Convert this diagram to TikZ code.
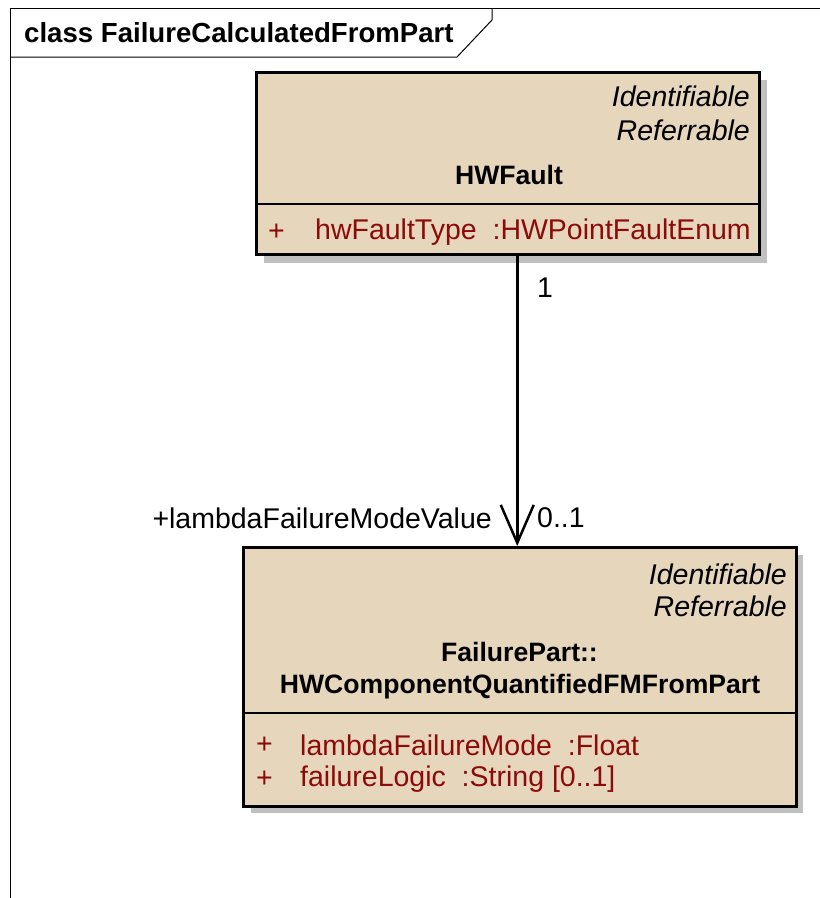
\documentclass[tikz,border=0pt]{standalone}
\usepackage{fontspec}
\setmainfont{Liberation Sans}
\usetikzlibrary{arrows.meta}
\definecolor{classfill}{RGB}{229,214,188}
\definecolor{attrred}{RGB}{140,10,10}
\definecolor{shadowgray}{RGB}{192,192,192}
\begin{document}
\begin{tikzpicture}[x=1pt,y=-1pt,
  font=\fontsize{28.5}{33}\selectfont,
  classbox/.style={draw=black, line width=2.5pt, fill=classfill, inner sep=0pt, anchor=north west},
  shadowbox/.style={fill=shadowgray, draw=none},
  txt/.style={inner sep=0pt},
  stereo/.style={txt, anchor=east, font=\fontsize{28.5}{33}\selectfont\itshape},
  cname/.style={txt, font=\fontsize{26.6}{33}\selectfont\bfseries},
  attr/.style={txt, anchor=west, text=attrred},
  divider/.style={line width=2pt},
  assoc/.style={line width=2.5pt, -{Straight Barb[length=38pt,width=33pt,line width=2.5pt]}},
  framebox/.style={line width=1pt}]
\useasboundingbox (0,0) rectangle (820,898);
% frame
\draw[framebox] (10,898) -- (10,8) -- (820,8);
\draw[framebox] (10,57) -- (457,57) -- (492,20) -- (492,8);
\node[txt, anchor=west, font=\fontsize{27.6}{33}\selectfont\bfseries] (title) at (24,33) {class FailureCalculatedFromPart};
% HWFault
\fill[shadowbox] (264,80) rectangle (767,263);
\node[classbox, minimum width=503pt, minimum height=182pt] (hw) at (255,71) {};
\draw[divider] (255,204) -- (758,204);
\node[stereo] (hwid) at (750,96) {Identifiable};
\node[stereo] (hwref) at (750,130) {Referrable};
\node[cname] (hwname) at (509,175) {HWFault};
\node[attr] (hwplus) at (268,232) {+};
\node[attr] (hwattr) at (315,232) {hwFaultType\ \ :HWPointFaultEnum};
% FailurePart
\fill[shadowbox] (251,555) rectangle (803,813);
\node[classbox, minimum width=553pt, minimum height=259pt] (fp) at (242,546) {};
\draw[divider] (242,713) -- (795,713);
\node[stereo] (fpid) at (787,574) {Identifiable};
\node[stereo] (fpref) at (787,606) {Referrable};
\node[cname] (fpname1) at (519.5,652) {FailurePart::};
\node[cname] (fpname2) at (520,687) {HWComponentQuantifiedFMFromPart};
\node[attr] (fpplus1) at (256,745) {+};
\node[attr] (fpattr1) at (300,745) {lambdaFailureMode\ \ :Float};
\node[attr] (fpplus2) at (256,779) {+};
\node[attr] (fpattr2) at (300,779) {failureLogic\ \ :String [0..1]};
% association
\draw[assoc] ([xshift=9.5pt]hw.south) -- ([xshift=-2.5pt]fp.north);
\node[txt] (m1) at (545,288) {1};
\node[txt, anchor=east] (role) at (492,518) {+lambdaFailureModeValue};
\node[txt, anchor=west] (m2) at (537,518) {0..1};
\end{tikzpicture}
\end{document}
